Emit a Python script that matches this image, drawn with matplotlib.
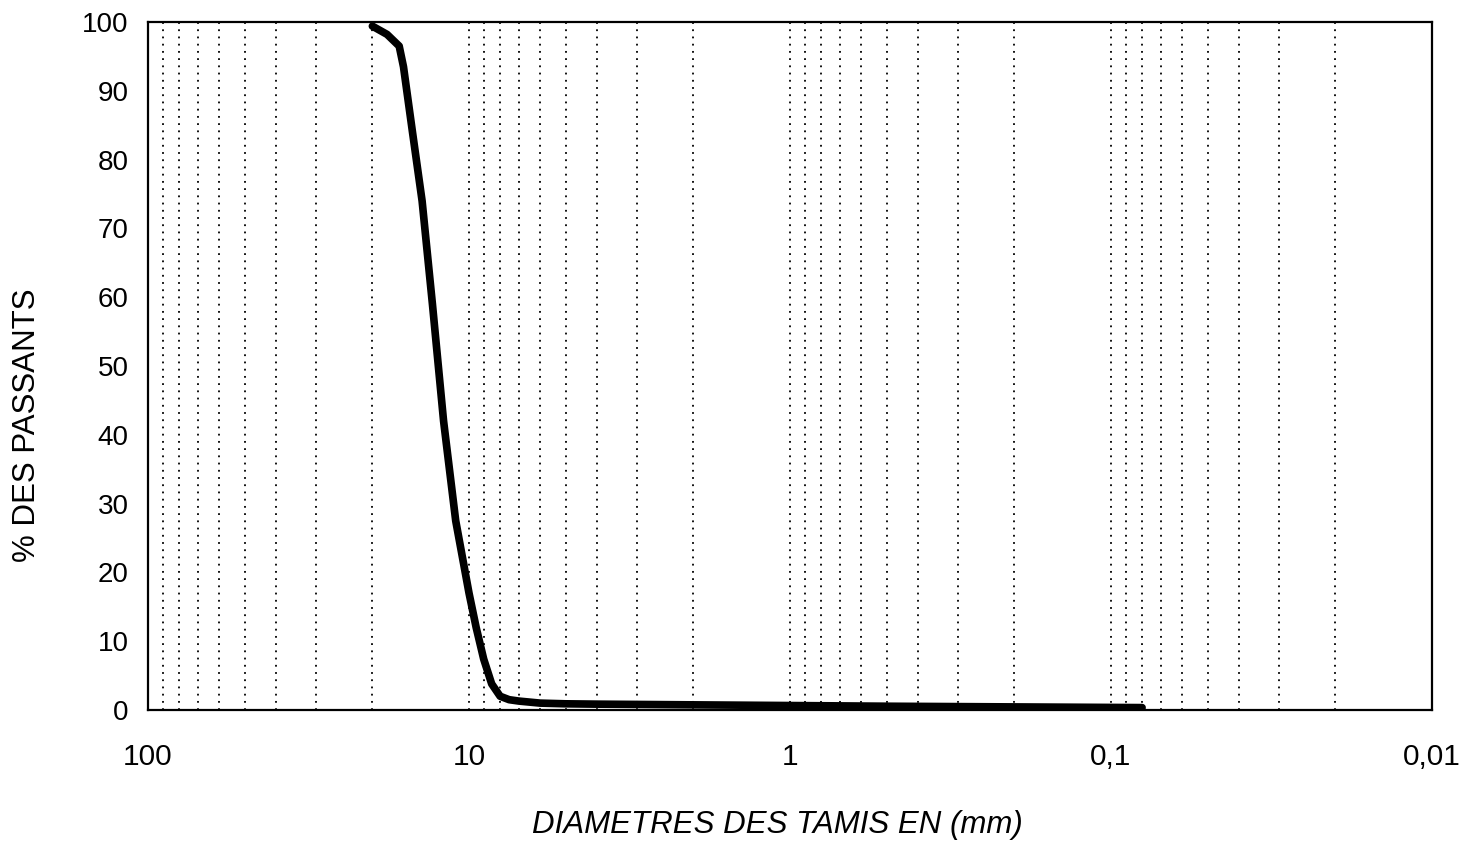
import matplotlib
matplotlib.use("Agg")
import matplotlib.pyplot as plt
from matplotlib.ticker import FixedLocator, LogLocator, NullFormatter

plt.rcParams['font.family'] = ['Liberation Sans', 'DejaVu Sans']

# Sieve diameters (mm) and % passing
diametres = [20, 18, 16.5, 16, 15, 14, 13, 12, 11, 10, 9.5, 9, 8.5, 8, 7.5, 7, 6, 5, 4, 2, 1, 0.5, 0.2, 0.08]
passants = [99.4, 98.2, 96.5, 93.5, 84, 74, 59, 42, 27.5, 17, 12, 7.4, 3.8, 2.0, 1.5, 1.3, 1.0, 0.9, 0.85, 0.75, 0.65, 0.55, 0.45, 0.35]

x_ticks = [100, 10, 1, 0.1, 0.01]
x_labels = ['100', '10', '1', '0,1', '0,01']
y_ticks = [0, 10, 20, 30, 40, 50, 60, 70, 80, 90, 100]

fig = plt.figure(figsize=(14.7, 8.43), dpi=100)
ax = fig.add_axes([148/1470, 1 - 710/843, (1432-148)/1470, (710-22)/843])

ax.set_xscale('log')
ax.set_xlim(100, 0.01)
ax.set_ylim(0, 100)

ax.plot(diametres, passants, color='black', linewidth=5.5, solid_capstyle='round',
        solid_joinstyle='round', zorder=3)

ax.xaxis.set_major_locator(FixedLocator(x_ticks))
ax.set_xticklabels(x_labels)
ax.xaxis.set_minor_locator(LogLocator(base=10, subs=range(2, 10)))
ax.xaxis.set_minor_formatter(NullFormatter())
ax.set_yticks(y_ticks)

ax.grid(True, which='both', axis='x', color='black', linestyle=(0, (1, 3.0)), linewidth=1.3)
ax.grid(False, axis='y')

ax.tick_params(axis='both', which='both', length=0)
ax.tick_params(axis='y', pad=14, labelsize=20)
ax.tick_params(axis='x', pad=24, labelsize=21.5)

for s in ax.spines.values():
    s.set_color('black')
    s.set_linewidth(1.6)

ax.set_xlabel('DIAMETRES DES TAMIS EN (mm)', fontsize=22.5, fontstyle='italic')
ax.xaxis.set_label_coords(0.49, -0.145)
ax.set_ylabel('% DES PASSANTS', fontsize=22.5)
ax.yaxis.set_label_coords(-0.0826, 0.414)

fig.savefig('out.png', dpi=100, facecolor='white')
